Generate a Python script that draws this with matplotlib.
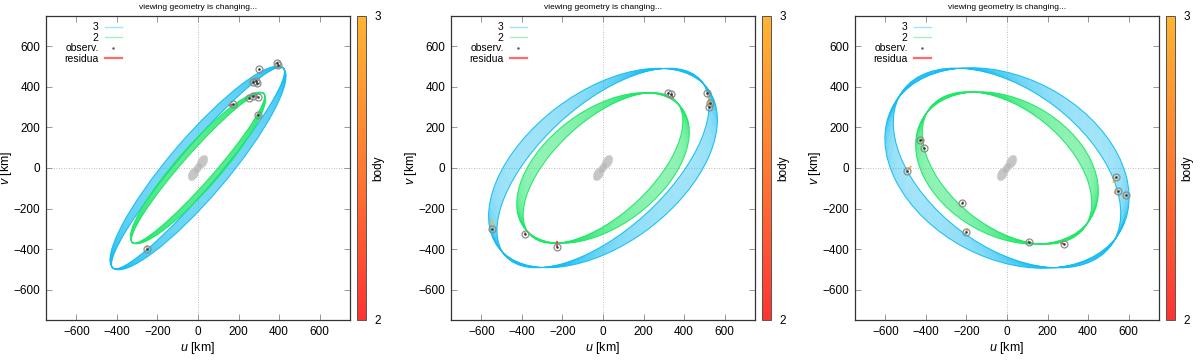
import numpy as np
import matplotlib
matplotlib.use("Agg")
import matplotlib.pyplot as plt
from matplotlib.patches import Ellipse
from matplotlib.colors import LinearSegmentedColormap, Normalize
import matplotlib.colorbar as mcb

plt.rcParams['font.family'] = ['Liberation Sans', 'DejaVu Sans']
plt.rcParams['mathtext.fontset'] = 'custom'
plt.rcParams['mathtext.it'] = 'Liberation Sans:italic'
plt.rcParams['mathtext.rm'] = 'Liberation Sans'

# orbit bands per panel: semi-major axis, semi-minor range, position angle range (deg)
blue_a = [648, 648, 640]
blue_b = [(100, 145), (310, 375), (385, 445)]
blue_ang = [(49.6, 49.6), (42.2, 37.0), (-37, -28)]
green_a = [490, 488, 482]
green_b = [(75, 105), (235, 285), (290, 335)]
green_ang = [(48.6, 48.6), (42.3, 37.0), (-38.5, -29.5)]

# observations: u, v, residuum end u, v, body
obs_u = [
    [388, 395, 302, 269, 286, 291, 171, 250, 269, 294, 294, -253],
    [320, 335, 513, 526, 521, -550, -386, -229],
    [-427, -411, -493, -220, -204, 109, 280, 536, 548, 586],
]
obs_v = [
    [516, 510, 487, 426, 429, 418, 314, 347, 357, 352, 261, -400],
    [370, 365, 370, 323, 303, -299, -328, -390],
    [138, 97, -15, -171, -317, -363, -376, -46, -112, -133],
]
res_u = [
    [392, 398, 300, 276, 280, 289, 152, 250, 278, 282, 296, -250],
    [322, 348, 524, 528, 523, -550, -383, -229],
    [-412, -404, -472, -214, -192, 104, 266, 523, 528, 572],
]
res_v = [
    [512, 505, 480, 432, 425, 421, 306, 347, 357, 355, 266, -380],
    [368, 345, 340, 298, 328, -255, -318, -362],
    [136, 99, 10, -168, -300, -362, -368, -72, -124, -146],
]
res_body = [
    [3, 3, 3, 3, 3, 3, 2, 2, 2, 2, 2, 3],
    [2, 2, 3, 3, 3, 3, 2, 2],
    [2, 2, 3, 2, 3, 2, 2, 3, 3, 3],
]

# central body drawn as overlapping lobes
lobe_u = [-22, 22, 0]
lobe_v = [-30, 30, 0]
lobe_w = [70, 70, 60]
lobe_h = [44, 44, 34]
lobe_ang = 60

ticks = [-600, -400, -200, 0, 200, 400, 600]
title = "viewing geometry is changing..."

col3 = '#14bdf2'
col2 = '#1ee868'
cmap = LinearSegmentedColormap.from_list('body', ['#ff3232', '#ff7a32', '#ffb432'])
norm = Normalize(2, 3)

fig = plt.figure(figsize=(12, 3.6), dpi=100)
W, H = 1200.0, 360.0
ax_left = [46, 451, 855]
cb_left = [357, 762, 1166]

for i in range(3):
    ax = fig.add_axes([ax_left[i] / W, 40 / H, 304 / W, 304 / H])
    ax.set_xlim(-750, 750)
    ax.set_ylim(-750, 750)
    ax.axhline(0, color='#aaaaaa', lw=0.6, ls=(0, (1, 2)), zorder=0)
    ax.axvline(0, color='#aaaaaa', lw=0.6, ls=(0, (1, 2)), zorder=0)

    # orbit bands
    n = 26
    for col, a, bb, aa in [(col3, blue_a[i], blue_b[i], blue_ang[i]),
                           (col2, green_a[i], green_b[i], green_ang[i])]:
        for k in range(n):
            f = k / (n - 1)
            b = bb[0] + f * (bb[1] - bb[0])
            ang = aa[0] + f * (aa[1] - aa[0])
            edge = k in (0, n - 1)
            ax.add_patch(Ellipse((0, 0), 2 * a, 2 * b, angle=ang, fill=False,
                                 ec=col, lw=0.8 if edge else 0.35,
                                 alpha=0.95 if edge else 0.55))

    for lu, lv, lw_, lh in zip(lobe_u, lobe_v, lobe_w, lobe_h):
        ax.add_patch(Ellipse((lu, lv), lw_, lh, angle=lobe_ang, fc='#b8b8b8',
                             ec='#cccccc', lw=0.5, alpha=0.8, zorder=3))

    # residua and observations
    for u, v, ru, rv, bd in zip(obs_u[i], obs_v[i], res_u[i], res_v[i], res_body[i]):
        ax.plot([u, ru], [v, rv], color=cmap(norm(bd)), lw=1.3, zorder=4,
                solid_capstyle='butt')
    ax.plot(obs_u[i], obs_v[i], 'o', ms=5, mfc='none', mec='#8c8c8c', mew=0.9, zorder=5)
    ax.plot(obs_u[i], obs_v[i], '.', ms=1.6, color='#333333', zorder=6)

    # legend
    h3, = ax.plot([], [], color='#9fe6fa', lw=1.0, label='3')
    h2, = ax.plot([], [], color='#9ff3c0', lw=1.0, label='2')
    ho, = ax.plot([], [], '.', ms=1.5, color='#555555', label='observ.')
    hr, = ax.plot([], [], color='#ff6a6a', lw=1.6, label='residua')
    ax.legend(handles=[h3, h2, ho, hr], loc='upper left', markerfirst=False,
              frameon=False, fontsize=7.5, handlelength=1.6, handletextpad=0.6,
              labelspacing=0.05, borderaxespad=0.2, bbox_to_anchor=(0.04, 1.0))

    ax.set_xticks(ticks)
    ax.set_yticks(ticks)
    ax.tick_params(direction='in', length=4, width=0.6, color='#888888',
                   top=True, right=True, labelsize=8.5, pad=4)
    for s in ax.spines.values():
        s.set_linewidth(0.9)
        s.set_color('#333333')
    ax.set_xlabel('$u$ [km]', fontsize=9, labelpad=2)
    ax.set_ylabel('$v$ [km]', fontsize=9)
    ax.yaxis.set_label_coords(-0.105, 0.5)
    ax.set_title(title, fontsize=6, pad=5)

    cax = fig.add_axes([cb_left[i] / W, 40 / H, 9 / W, 304 / H])
    cb = mcb.ColorbarBase(cax, cmap=cmap, norm=norm, ticks=[2, 3])
    cb.outline.set_linewidth(0.7)
    cb.outline.set_edgecolor('#555555')
    cax.tick_params(length=0, labelsize=8.5, pad=6)
    cax.text(2.35, 0.5, 'body', rotation=90, ha='center', va='center',
             fontsize=8.5, transform=cax.transAxes)

fig.savefig('out.png', dpi=100)
